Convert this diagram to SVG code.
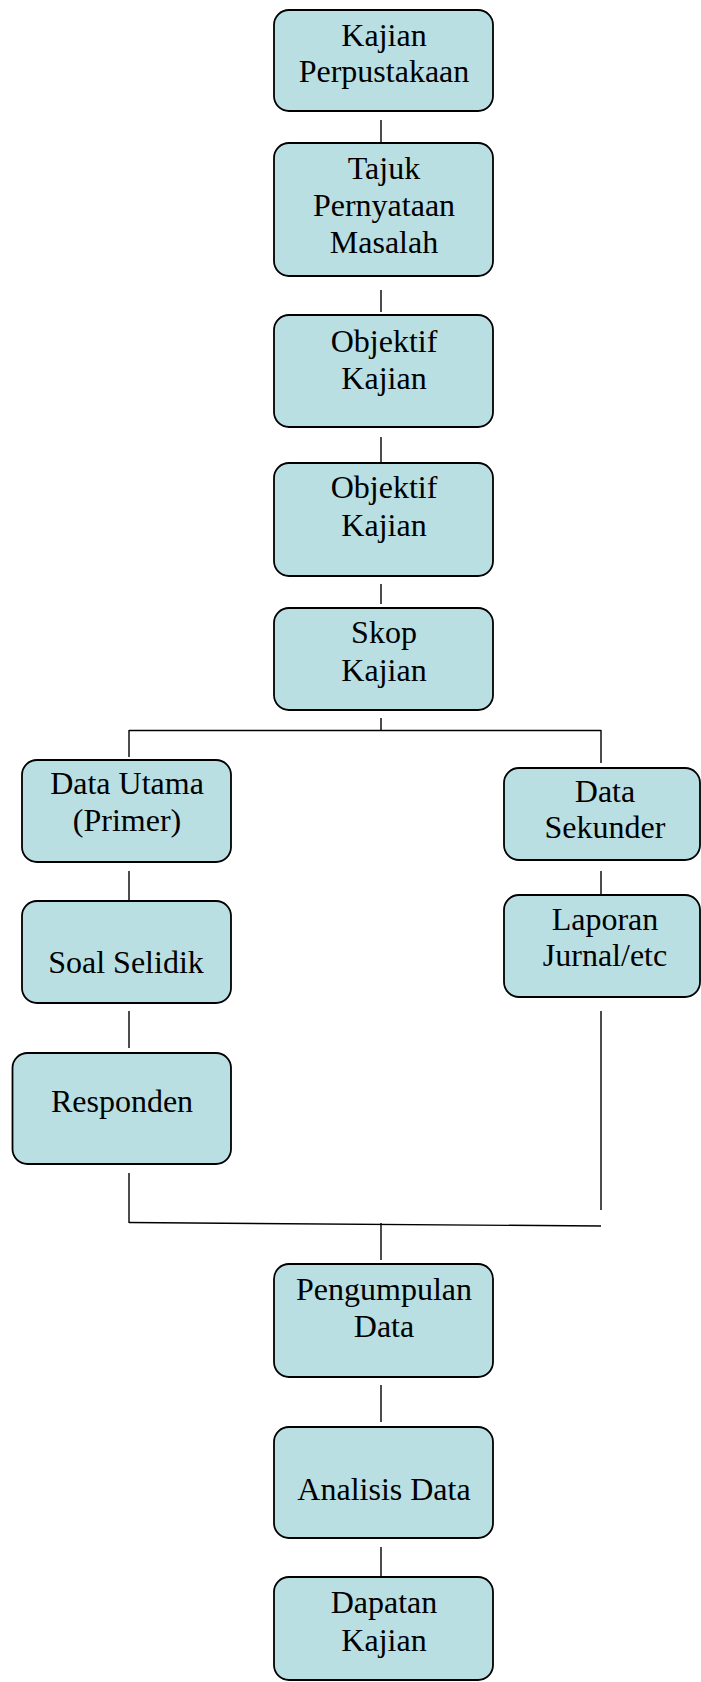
<svg xmlns="http://www.w3.org/2000/svg" width="701" height="1682" viewBox="0 0 701 1682">
<style>
.box{fill:#B9DFE3;stroke:#000;stroke-width:1.8}
text{font-family:'Liberation Serif','Times New Roman',Times,'DejaVu Serif',serif;font-size:32px;fill:#000;text-anchor:middle}
.c{stroke:#000;stroke-width:1.4;fill:none}
</style>
<rect width="701" height="1682" fill="#fff"/>
<g id="connectors">
<line class="c" x1="381" y1="120" x2="381" y2="143"/>
<line class="c" x1="381" y1="290" x2="381" y2="312"/>
<line class="c" x1="381" y1="437" x2="381" y2="463"/>
<line class="c" x1="381" y1="584" x2="381" y2="604"/>
<line class="c" x1="381" y1="718" x2="381" y2="731"/>
<line class="c" x1="129" y1="730.5" x2="601" y2="730.5"/>
<line class="c" x1="129" y1="730" x2="129" y2="757"/>
<line class="c" x1="601" y1="730" x2="601" y2="763"/>
<line class="c" x1="129" y1="871" x2="129" y2="900"/>
<line class="c" x1="601" y1="871" x2="601" y2="895"/>
<line class="c" x1="129" y1="1011" x2="129" y2="1048"/>
<line class="c" x1="129" y1="1173" x2="129" y2="1223"/>
<line class="c" x1="601" y1="1011" x2="601" y2="1210"/>
<line class="c" x1="129" y1="1222.5" x2="601" y2="1226"/>
<line class="c" x1="381" y1="1223" x2="381" y2="1260"/>
<line class="c" x1="381" y1="1385" x2="381" y2="1422"/>
<line class="c" x1="381" y1="1547" x2="381" y2="1577"/>
</g>
<g id="n1"><rect class="box" x="274" y="10" width="219" height="101" rx="15"/><text font-family="Liberation Serif, serif" x="384" y="46">Kajian</text><text x="384" y="82">Perpustakaan</text></g>
<g id="n2"><rect class="box" x="274" y="143" width="219" height="133" rx="15"/><text x="384" y="179">Tajuk</text><text x="384" y="216">Pernyataan</text><text x="384" y="253">Masalah</text></g>
<g id="n3"><rect class="box" x="274" y="315" width="219" height="112" rx="15"/><text x="384" y="352">Objektif</text><text x="384" y="389">Kajian</text></g>
<g id="n4"><rect class="box" x="274" y="463" width="219" height="113" rx="15"/><text x="384" y="498">Objektif</text><text x="384" y="536">Kajian</text></g>
<g id="n5"><rect class="box" x="274" y="608" width="219" height="102" rx="15"/><text x="384" y="643">Skop</text><text x="384" y="681">Kajian</text></g>
<g id="n6"><rect class="box" x="22" y="760" width="209" height="102" rx="15"/><text x="127" y="794">Data Utama</text><text x="127" y="831">(Primer)</text></g>
<g id="n7"><rect class="box" x="504" y="768" width="196" height="92" rx="15"/><text x="605" y="802">Data</text><text x="605" y="838">Sekunder</text></g>
<g id="n8"><rect class="box" x="22" y="901" width="209" height="102" rx="15"/><text x="126" y="973">Soal Selidik</text></g>
<g id="n9"><rect class="box" x="504" y="895" width="196" height="102" rx="15"/><text x="605" y="930">Laporan</text><text x="605" y="966">Jurnal/etc</text></g>
<g id="n10"><rect class="box" x="12.5" y="1053" width="218.5" height="111" rx="15"/><text x="122" y="1112">Responden</text></g>
<g id="n11"><rect class="box" x="274" y="1264" width="219" height="113" rx="15"/><text x="384" y="1300">Pengumpulan</text><text x="384" y="1337">Data</text></g>
<g id="n12"><rect class="box" x="274" y="1427" width="219" height="111" rx="15"/><text x="384" y="1500">Analisis Data</text></g>
<g id="n13"><rect class="box" x="274" y="1577" width="219" height="103" rx="15"/><text x="384" y="1613">Dapatan</text><text x="384" y="1651">Kajian</text></g>
</svg>
